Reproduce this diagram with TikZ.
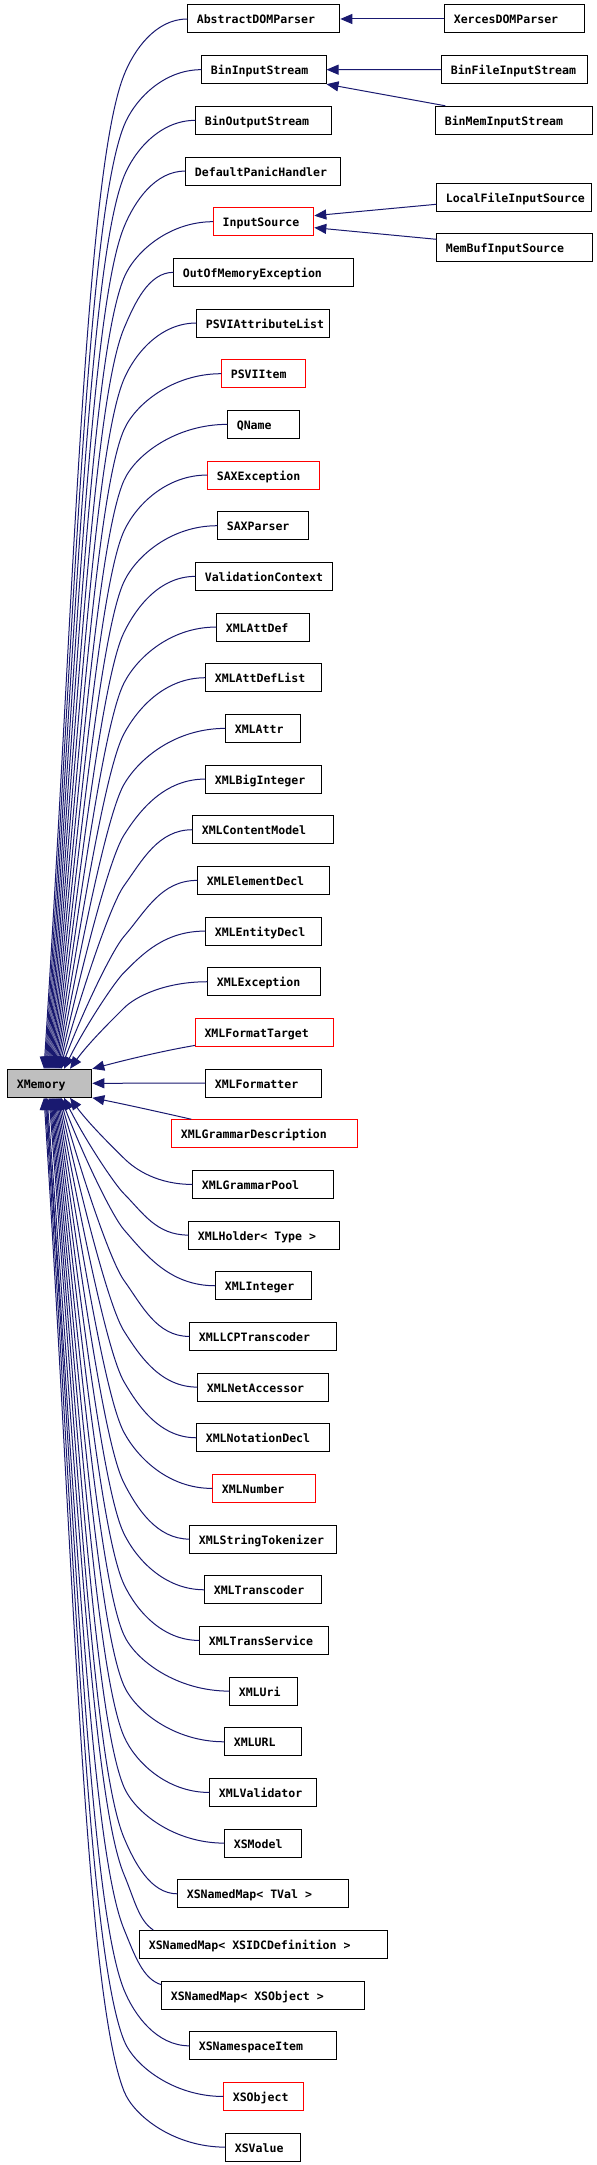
\documentclass[tikz,border=0pt]{standalone}
\usepackage{fontspec}
\newfontfamily\dfont{DejaVu Sans Mono}
\usetikzlibrary{arrows.meta,calc}
\definecolor{edgec}{HTML}{191970}
\definecolor{redc}{HTML}{FF0000}
\definecolor{grayc}{HTML}{BFBFBF}
\newcommand\msp{\hspace*{0.602em}}
\tikzset{
  box/.style={draw=black, line width=1bp, rectangle, minimum height=28bp,
    inner xsep=9bp, inner ysep=0pt, align=left, anchor=west,
    text height=10bp, text depth=0bp,
    font=\dfont\bfseries\fontsize{11.6}{13}\selectfont},
  edge/.style={draw=edgec, line width=1bp, -{Triangle[length=12bp,width=10bp]}, edgec},
}
\def\ePone{0}
\newcommand\bedge[6]{%
  \pgfmathsetmacro\eSg{((#6)>(#3))?1:-1}%
  \pgfmathsetmacro\eD{abs((#6)-(#3))}%
  \pgfmathsetmacro\eH{min(56,0.3*(\eD))}%
  \pgfmathsetmacro\eKx{124}%
  \pgfmathsetmacro\eKy{(#3)+(\eSg)*(\eH)}%
  \pgfmathsetmacro\eR{(\eD)-(\eH)}%
  \pgfmathsetmacro\eSl{((#5)-(\eKx))/(\eR)}%
  \pgfmathsetmacro\eM{max(1.2*(\eSl)-0.3,-1)}%
  \pgfmathsetmacro\eN{0.8*(\eSl)}%
  \pgfmathsetmacro\eAx{(#2)-0.5*((#2)-(\eKx))}%
  \pgfmathsetmacro\eAy{(#3)+(\eSg)*(\ePone)}%
  \pgfmathsetmacro\eS{0.45*(\eH)}%
  \pgfmathsetmacro\eBx{(\eKx)-(\eS)*(\eM)}%
  \pgfmathsetmacro\eBy{(\eKy)-(\eSg)*(\eS)}%
  \pgfmathsetmacro\eCx{(\eKx)+(\eM)*0.1*(\eR)}%
  \pgfmathsetmacro\eCy{(\eKy)+(\eSg)*0.1*(\eR)}%
  \pgfmathsetmacro\eDx{(#5)-(\eN)*0.45*(\eR)}%
  \pgfmathsetmacro\eDy{(#6)-(\eSg)*0.45*(\eR)}%
  \draw[edge] #1 .. controls (\eAx,\eAy) and (\eBx,\eBy) .. (\eKx,\eKy) .. controls (\eCx,\eCy) and (\eDx,\eDy) .. #4;
}
\begin{document}
\begin{tikzpicture}[x=1bp,y=-1bp]
\path[use as bounding box, fill=white] (0,0) rectangle (597,2165);

% central node
\node[box, fill=grayc, text width=66bp] (xm) at (7.3,1083.3) {XMemory};

% left column of classes
\foreach \i/\xl/\xr/\txt/\col in {
 1/187.3/339.3/AbstractDOMParser/black,
 2/201.4/325.5/BinInputStream/black,
 3/195.3/331.2/BinOutputStream/black,
 4/185.4/340.4/DefaultPanicHandler/black,
 5/213.2/313.3/InputSource/redc,
 6/173.3/353.3/OutOfMemoryException/black,
 7/196.3/329.3/PSVIAttributeList/black,
 8/221.3/305.3/PSVIItem/redc,
 9/227.3/299.3/QName/black,
 10/207.3/319.3/SAXException/redc,
 11/217.3/308.3/SAXParser/black,
 12/195.3/332.3/ValidationContext/black,
 13/216.3/309.3/XMLAttDef/black,
 14/205.3/321.3/XMLAttDefList/black,
 15/225.3/300.3/XMLAttr/black,
 16/205.3/321.3/XMLBigInteger/black,
 17/192.3/333.3/XMLContentModel/black,
 18/197.3/329.3/XMLElementDecl/black,
 19/205.3/321.3/XMLEntityDecl/black,
 20/207.3/320.3/XMLException/black,
 21/195/333/XMLFormatTarget/redc,
 22/205.3/321.3/XMLFormatter/black,
 23/171.3/356.7/XMLGrammarDescription/redc,
 24/192.3/333.3/XMLGrammarPool/black,
 25/188.3/339.3/{XMLHolder<\msp Type\msp >}/black,
 26/215.3/311.3/XMLInteger/black,
 27/189.3/336.3/XMLLCPTranscoder/black,
 28/197.3/328.3/XMLNetAccessor/black,
 29/196.3/329.3/XMLNotationDecl/black,
 30/212.3/315.3/XMLNumber/redc,
 31/189.3/336.3/XMLStringTokenizer/black,
 32/204.3/321.3/XMLTranscoder/black,
 33/199.3/328.3/XMLTransService/black,
 34/229.3/297.3/XMLUri/black,
 35/224.3/301.3/XMLURL/black,
 36/209.3/316.3/XMLValidator/black,
 37/224.3/301.3/XSModel/black,
 38/177.3/348.3/{XSNamedMap<\msp TVal\msp >}/black,
 39/139.3/387.3/{XSNamedMap<\msp XSIDCDefinition\msp >}/black,
 40/161.3/364.3/{XSNamedMap<\msp XSObject\msp >}/black,
 41/189.3/336.3/XSNamespaceItem/black,
 42/223.3/303.3/XSObject/redc,
 43/225.3/300.3/XSValue/black}
{
  \pgfmathsetmacro\yc{19+(\i-1)*50.67}
  \pgfmathsetmacro\tw{\xr-\xl-18}
  \node[box, draw=\col, text width=\tw bp] (n\i) at (\xl,\yc) {\txt};
}

% right column
\foreach \i/\xl/\xr/\yc/\txt in {
 44/444.3/584.3/19/XercesDOMParser,
 45/441.3/587.3/69.7/BinFileInputStream,
 46/435.3/592.3/120.3/BinMemInputStream,
 47/436.3/591.3/197.3/LocalFileInputSource,
 48/436.3/592.3/247.3/MemBufInputSource}
{
  \pgfmathsetmacro\tw{\xr-\xl-18}
  \node[box, text width=\tw bp] (n\i) at (\xl,\yc) {\txt};
}

% right-column inheritance
\draw[edge] (n44.west) -- (n1.east);
\draw[edge] (n45.west) -- (n2.east);
\draw[edge] ($(n46.north west)+(10,0)$) -- (n2.south east);
\draw[edge] ($(n47.west)+(0,7)$) -- ($(n5.east)+(0,-6)$);
\draw[edge] ($(n48.west)+(0,-8)$) -- ($(n5.east)+(0,6)$);

% upper edges into XMemory
\foreach \i/\xl in {1/187.3,2/201.4,3/195.3,4/185.4,5/213.2,6/173.3,7/196.3,8/221.3,
  9/227.3,10/207.3,11/217.3,12/195.3,13/216.3,14/205.3,15/225.3,16/205.3,17/192.3,
  18/197.3,19/205.3,20/207.3}
{
  \pgfmathsetmacro\yc{19+(\i-1)*50.67}
  \pgfmathsetmacro\xe{\i<19 ? 44+(\i-1) : (\i==19 ? 64 : 70)}
  \bedge{(n\i.west)}{\xl}{\yc}{($(xm.north west)+(\xe-7.3,0)$)}{\xe}{1069.3}
}

% lower edges into XMemory
\foreach \i/\xl in {24/192.3,25/188.3,26/215.3,27/189.3,28/197.3,29/196.3,30/212.3,
  31/189.3,32/204.3,33/199.3,34/229.3,35/224.3,36/209.3,37/224.3,38/177.3,
  41/189.3,42/223.3,43/225.3}
{
  \pgfmathsetmacro\yc{19+(\i-1)*50.67}
  \pgfmathsetmacro\xe{\i>25 ? 61-(\i-26) : (\i==25 ? 64 : 70)}
  \bedge{(n\i.west)}{\xl}{\yc}{($(xm.south west)+(\xe-7.3,0)$)}{\xe}{1097.3}
}
\begingroup
\def\ePone{10}
\bedge{($(n39.north west)+(14,0)$)}{153.3}{1930.5}{($(xm.south west)+(47-7.3,0)$)}{47}{1097.3}
\def\ePone{6}
\bedge{($(n40.north west)+(0,4)$)}{161.3}{1985.2}{($(xm.south west)+(46-7.3,0)$)}{46}{1097.3}
\endgroup

% nearly horizontal edges
\draw[edge] ($(n21.south west)+(0,-1.5)$) .. controls +(-35,6) and +(30,-8) .. (xm.north east);
\draw[edge] (n22.west) -- (xm.east);
\draw[edge] ($(n23.north west)+(20,0)$) .. controls +(-35,-8) and +(30,6) .. (xm.south east);
\end{tikzpicture}
\end{document}
